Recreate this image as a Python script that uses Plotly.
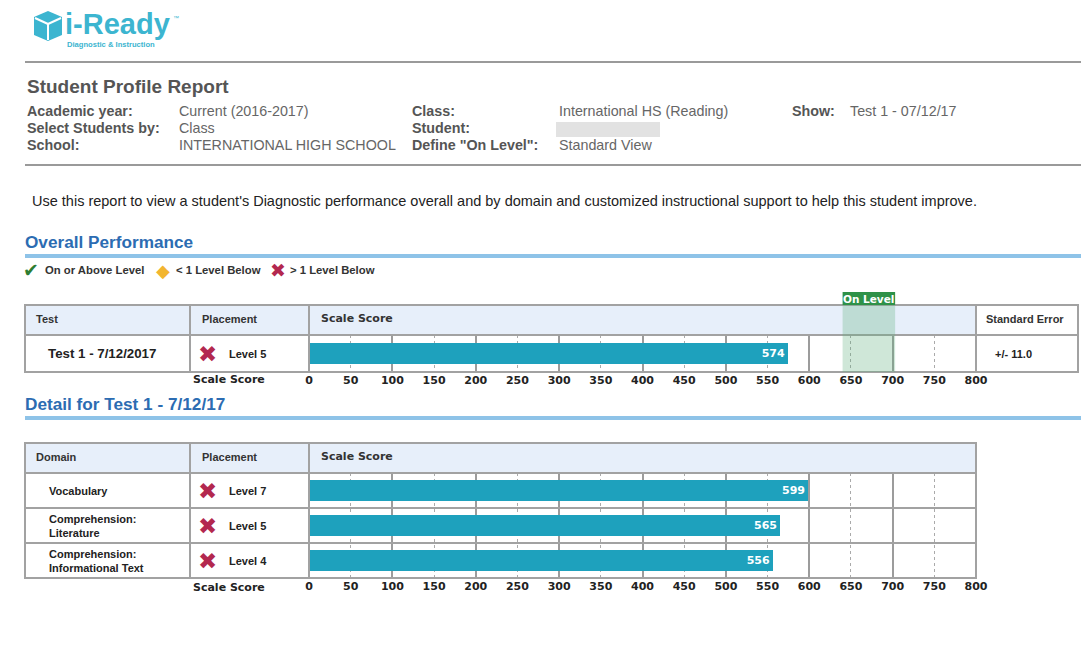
import plotly.graph_objects as go

# ---------------- data ----------------
OVERALL_TEST = ["Test 1 - 7/12/2017"]
OVERALL_PLACEMENT = ["Level 5"]
OVERALL_SCORE = [574]
OVERALL_SE = ["+/- 11.0"]

DOMAINS = ["Vocabulary", "Comprehension:<br>Literature", "Comprehension:<br>Informational Text"]
DOMAIN_PLACEMENT = ["Level 7", "Level 5", "Level 4"]
DOMAIN_SCORE = [599, 565, 556]

ON_LEVEL_RANGE = [640, 703]
SCALE_TICKS = [0, 50, 100, 150, 200, 250, 300, 350, 400, 450, 500, 550, 600, 650, 700, 750, 800]
SCALE_RANGE = [0, 800]

# ---------------- helpers ----------------
W, H = 1081, 647
FONT = "Liberation Sans, Arial, sans-serif"
DJ = "DejaVu Sans, sans-serif"
TEAL = "#1ea1bd"
GRID = "#9c9c9c"
BORDER = "#a2a2a2"
HEAD_FILL = "#e7effa"
XRED = "#b3284f"


def X(px):
    return px / W


def Y(py):
    return 1 - py / H


annotations = []
shapes = []


def txt(x, y, text, size=13, color="#555", bold=False, anchor="left", family=FONT):
    annotations.append(dict(
        xref="paper", yref="paper", x=X(x), y=Y(y), text=text, showarrow=False,
        xanchor=anchor, yanchor="middle", align="left", borderpad=0,
        font=dict(size=size, color=color, family=family, weight="bold" if bold else "normal")))


def rect(x0, y0, x1, y1, fill="rgba(0,0,0,0)", line=None, lw=0, layer="below"):
    shapes.append(dict(type="rect", xref="paper", yref="paper",
                       x0=X(x0), x1=X(x1), y0=Y(y0), y1=Y(y1),
                       fillcolor=fill, line=dict(color=line or "rgba(0,0,0,0)", width=lw), layer=layer))


def line(x0, y0, x1, y1, color=BORDER, width=2, layer="above"):
    shapes.append(dict(type="line", xref="paper", yref="paper",
                       x0=X(x0), x1=X(x1), y0=Y(y0), y1=Y(y1),
                       line=dict(color=color, width=width), layer=layer))


def path(points, fill, lcolor=None, lw=0):
    d = "M " + " L ".join(f"{X(a):.5f},{Y(b):.5f}" for a, b in points) + " Z"
    shapes.append(dict(type="path", xref="paper", yref="paper", path=d, fillcolor=fill,
                       line=dict(color=lcolor or "rgba(0,0,0,0)", width=lw), layer="above"))


# ---------------- logo ----------------
LOGO = "#3cb5d0"
path([(48, 11), (62, 17), (62, 35), (48, 41), (34, 35), (34, 17)], LOGO)
line(35, 18, 48, 24, color="white", width=2)
line(48, 24, 61, 18, color="white", width=2)
line(48, 24, 48, 40, color="white", width=2)
txt(64, 24, "i-Ready", size=29, color=LOGO, bold=True)
txt(172, 18, "™", size=6, color=LOGO)
txt(66, 44, "Diagnostic &amp; Instruction", size=7.6, color=LOGO, bold=True)

# ---------------- header block ----------------
line(25, 62, 1081, 62, color="#9a9a9a", width=2)
line(25, 165, 1081, 165, color="#9a9a9a", width=2)
txt(26, 86, "Student Profile Report", size=19, color="#555", bold=True)

LBL = "#555"
VAL = "#666"
FS = 14.3
txt(26, 111, "Academic year:", FS, LBL, True)
txt(26, 128, "Select Students by:", FS, LBL, True)
txt(26, 145, "School:", FS, LBL, True)
txt(178, 111, "Current (2016-2017)", FS, VAL)
txt(178, 128, "Class", FS, VAL)
txt(178, 145, "INTERNATIONAL HIGH SCHOOL", FS, VAL)
txt(411, 111, "Class:", FS, LBL, True)
txt(411, 128, "Student:", FS, LBL, True)
txt(411, 145, "Define \"On Level\":", FS, LBL, True)
txt(558, 111, "International HS (Reading)", FS, VAL)
rect(556, 122, 660, 137, fill="#e2e2e2")
txt(558, 145, "Standard View", FS, VAL)
txt(791, 111, "Show:", FS, LBL, True)
txt(849, 111, "Test 1 - 07/12/17", FS, VAL)

txt(31, 201, "Use this report to view a student's Diagnostic performance overall and by domain and "
             "customized instructional support to help this student improve.", 14.5, "#222")

# ---------------- overall performance ----------------
SEC = "#2c6cb2"
RULE = "#8ec3e8"
txt(24, 242, "Overall Performance", 17.2, SEC, True)
rect(25, 254, 1081, 258, fill=RULE)

txt(22, 270, "✔", 19, "#2e7d32", family=DJ)
txt(44, 270, "On or Above Level", 11.3, "#333", True)
txt(155, 270, "◆", 18, "#f2b530", family=DJ)
txt(175, 270, "&lt; 1 Level Below", 11.3, "#333", True)
txt(269, 270, "✖", 19, XRED, family=DJ)
txt(289, 270, "&gt; 1 Level Below", 11.3, "#333", True)

# table 1 frame
T1_TOP, T1_HEAD, T1_BOT = 305, 335, 372
rect(25, T1_TOP, 976, T1_HEAD, fill=HEAD_FILL)
rect(25, T1_TOP, 1078, T1_BOT, line=BORDER, lw=2, layer="above")
line(25, T1_HEAD, 1078, T1_HEAD)
for cx in (190, 309, 976):
    line(cx, T1_TOP, cx, T1_BOT)

txt(35, 319, "Test", 11, "#333", True)
txt(201, 319, "Placement", 11, "#333", True)
txt(320, 318, "Scale Score", 11, "#333", True, family=DJ)
txt(985, 319, "Standard Error", 11, "#333", True)

row_mid = (T1_HEAD + T1_BOT) / 2
for i, name in enumerate(OVERALL_TEST):
    txt(47, row_mid, name, 13.3, "#222", True)
    txt(197, row_mid, "✖", 23, XRED, family=DJ)
    txt(228, row_mid, OVERALL_PLACEMENT[i], 11, "#222", True)
    txt(994, row_mid, OVERALL_SE[i], 11, "#222", True)
txt(266, 379, "Scale Score", 11, "#222", True, anchor="right", family=DJ)

# On Level band
shapes.append(dict(type="rect", xref="x", yref="paper", x0=ON_LEVEL_RANGE[0], x1=ON_LEVEL_RANGE[1],
                   y0=Y(T1_BOT), y1=Y(T1_TOP), fillcolor="rgba(95,175,125,0.30)",
                   line=dict(width=0), layer="above"))
shapes.append(dict(type="rect", xref="x", yref="paper", x0=ON_LEVEL_RANGE[0], x1=ON_LEVEL_RANGE[1],
                   y0=Y(305), y1=Y(292), fillcolor="#2e9148", line=dict(width=0), layer="above"))
annotations.append(dict(xref="x", yref="paper", x=(ON_LEVEL_RANGE[0] + ON_LEVEL_RANGE[1]) / 2,
                        y=Y(298.5), text="On Level", showarrow=False, xanchor="center", yanchor="middle",
                        font=dict(size=10.5, color="white", family=DJ, weight="bold")))

# ---------------- detail ----------------
txt(24, 404, "Detail for Test 1 - 7/12/17", 17.2, SEC, True)
rect(25, 416, 1081, 420, fill=RULE)

T2_TOP, T2_HEAD, T2_BOT = 443, 473, 578
ROW_H = (T2_BOT - T2_HEAD) / len(DOMAINS)
rect(25, T2_TOP, 976, T2_HEAD, fill=HEAD_FILL)
rect(25, T2_TOP, 976, T2_BOT, line=BORDER, lw=2, layer="above")
line(25, T2_HEAD, 976, T2_HEAD)
for k in range(1, len(DOMAINS)):
    line(25, T2_HEAD + k * ROW_H, 976, T2_HEAD + k * ROW_H)
for cx in (190, 309):
    line(cx, T2_TOP, cx, T2_BOT)

txt(35, 457, "Domain", 11, "#333", True)
txt(201, 457, "Placement", 11, "#333", True)
txt(320, 456, "Scale Score", 11, "#333", True, family=DJ)

for i, name in enumerate(DOMAINS):
    mid = T2_HEAD + (i + 0.5) * ROW_H
    txt(48, mid, name, 11, "#222", True)
    txt(197, mid, "✖", 23, XRED, family=DJ)
    txt(228, mid, DOMAIN_PLACEMENT[i], 11, "#222", True)
txt(266, 587, "Scale Score", 11, "#222", True, anchor="right", family=DJ)

# ---------------- figure ----------------
fig = go.Figure()
bar_text = dict(family=DJ, size=11, color="white", weight="bold")
fig.add_trace(go.Bar(x=OVERALL_SCORE, y=OVERALL_TEST, orientation="h", xaxis="x", yaxis="y",
                     marker=dict(color=TEAL, line=dict(width=0)), width=0.57,
                     text=[str(v) for v in OVERALL_SCORE], textposition="inside",
                     insidetextanchor="end", textfont=bar_text, hoverinfo="skip"))
fig.add_trace(go.Bar(x=DOMAIN_SCORE, y=DOMAINS, orientation="h", xaxis="x2", yaxis="y2",
                     marker=dict(color=TEAL, line=dict(width=0)), width=0.58,
                     text=[str(v) for v in DOMAIN_SCORE], textposition="inside",
                     insidetextanchor="end", textfont=bar_text, hoverinfo="skip"))
# carriers for the tick-label axes
fig.add_trace(go.Scatter(x=[None], y=[None], xaxis="x3", yaxis="y", showlegend=False, hoverinfo="skip"))
fig.add_trace(go.Scatter(x=[None], y=[None], xaxis="x4", yaxis="y2", showlegend=False, hoverinfo="skip"))

XDOM = [X(309), X(976)]
grid_axis = dict(range=SCALE_RANGE, domain=XDOM, tick0=0, dtick=100, showticklabels=False,
                 showgrid=True, gridcolor=GRID, gridwidth=1.6, zeroline=False, showline=False,
                 ticks="", fixedrange=True, automargin=False,
                 minor=dict(tick0=0, dtick=50, showgrid=True, gridcolor="#aaaaaa", gridwidth=1,
                            griddash="3px,3px", ticks=""))
label_axis = dict(range=SCALE_RANGE, tickmode="array", tickvals=SCALE_TICKS,
                  ticktext=[str(t) for t in SCALE_TICKS], showgrid=False, zeroline=False,
                  showline=False, ticks="", side="bottom", fixedrange=True, automargin=False,
                  tickfont=dict(family=DJ, size=11, color="#222", weight="bold"))

fig.update_layout(
    width=W, height=H, margin=dict(l=0, r=0, t=0, b=0, pad=0, autoexpand=False),
    paper_bgcolor="white", plot_bgcolor="rgba(0,0,0,0)",
    showlegend=False, hovermode=False, bargap=0,
    xaxis=dict(anchor="y", **grid_axis),
    xaxis2=dict(anchor="y2", **grid_axis),
    xaxis3=dict(overlaying="x", anchor="y", **label_axis),
    xaxis4=dict(overlaying="x2", anchor="y2", **label_axis),
    yaxis=dict(domain=[Y(T1_BOT), Y(T1_HEAD)], anchor="x", showticklabels=False, showgrid=False,
               zeroline=False, fixedrange=True, automargin=False),
    yaxis2=dict(domain=[Y(T2_BOT), Y(T2_HEAD)], anchor="x2", showticklabels=False, showgrid=False,
                zeroline=False, autorange="reversed", fixedrange=True, automargin=False),
    shapes=shapes, annotations=annotations,
    font=dict(family=FONT),
)

POST = (
    "document.documentElement.style.overflow='hidden';"
    "document.body.style.margin='0px';document.body.style.overflow='hidden';"
)
fig.write_html("out.html", config={"displayModeBar": False}, post_script=POST)
